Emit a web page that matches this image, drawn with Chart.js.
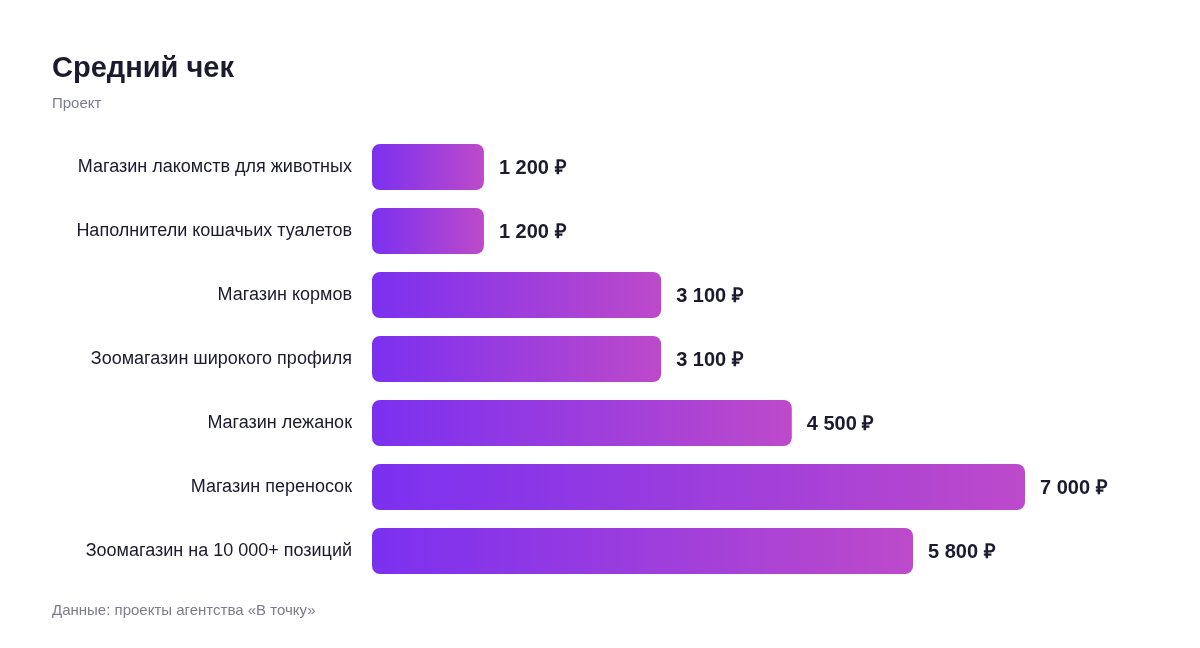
<!DOCTYPE html>
<html><head><meta charset="utf-8">
<script src="https://cdn.jsdelivr.net/npm/chart.js@4.4.0/dist/chart.umd.min.js"></script>
<style>html,body{margin:0;padding:0;background:#fff}#wrap{width:1200px;height:648px;position:relative}</style>
</head><body><div id="wrap"><canvas id="c" width="1200" height="648"></canvas></div>
<script>
const categories = ["Магазин лакомств для животных","Наполнители кошачьих туалетов","Магазин кормов","Зоомагазин широкого профиля","Магазин лежанок","Магазин переносок","Зоомагазин на 10 000+ позиций"];
const values = [1200,1200,3100,3100,4500,7000,5800];
const valueLabels = ["1 200 ₽","1 200 ₽","3 100 ₽","3 100 ₽","4 500 ₽","7 000 ₽","5 800 ₽"];
const titleText = "Средний чек";
const subtitleText = "Проект";
const footerText = "Данные: проекты агентства «В точку»";

const FONT = "'Liberation Sans', Arial, Helvetica, sans-serif";

const textPlugin = {
  id: 'texts',
  afterDraw(chart) {
    const ctx = chart.ctx;
    ctx.save();
    ctx.textBaseline = 'alphabetic';
    ctx.textAlign = 'left';
    ctx.font = "bold 29px " + FONT;
    ctx.fillStyle = '#1b1a2e';
    ctx.fillText(titleText, 52, 77);
    ctx.font = "15px " + FONT;
    ctx.fillStyle = '#7b7b8e';
    ctx.fillText(subtitleText, 52, 108);
    ctx.font = "15px " + FONT;
    ctx.fillText(footerText, 52, 615);
    const meta = chart.getDatasetMeta(0);
    ctx.font = "bold 20px " + FONT;
    ctx.fillStyle = '#1b1a2e';
    ctx.textBaseline = 'middle';
    meta.data.forEach((bar, i) => {
      ctx.fillText(valueLabels[i], bar.x + 15, bar.y + 1);
    });
    ctx.restore();
  }
};

new Chart(document.getElementById('c'), {
  type: 'bar',
  data: {
    labels: categories,
    datasets: [{
      data: values,
      backgroundColor(context) {
        const chart = context.chart;
        const area = chart.chartArea;
        if (!area || context.type !== 'data') return '#8b3be6';
        const xs = chart.scales.x;
        const x0 = xs.getPixelForValue(0);
        const x1 = xs.getPixelForValue(context.raw);
        const g = chart.ctx.createLinearGradient(x0, 0, x1, 0);
        g.addColorStop(0, '#7b30f0');
        g.addColorStop(1, '#bd4aca');
        return g;
      },
      borderRadius: 8,
      borderSkipped: false,
      barPercentage: 0.72,
      categoryPercentage: 1
    }]
  },
  options: {
    indexAxis: 'y',
    responsive: false,
    animation: false,
    devicePixelRatio: 1,
    layout: { padding: { left: 0, right: 175, top: 135, bottom: 65 } },
    plugins: { legend: { display: false }, tooltip: { enabled: false }, title: { display: false } },
    scales: {
      x: { display: false, min: 0, max: 7000 },
      y: {
        afterFit(scale) { scale.width = 372; },
        grid: { display: false, drawTicks: false },
        border: { display: false },
        ticks: { padding: 20, color: '#1b1a2e', font: { family: FONT, size: 18 } }
      }
    }
  },
  plugins: [textPlugin]
});
</script></body></html>
